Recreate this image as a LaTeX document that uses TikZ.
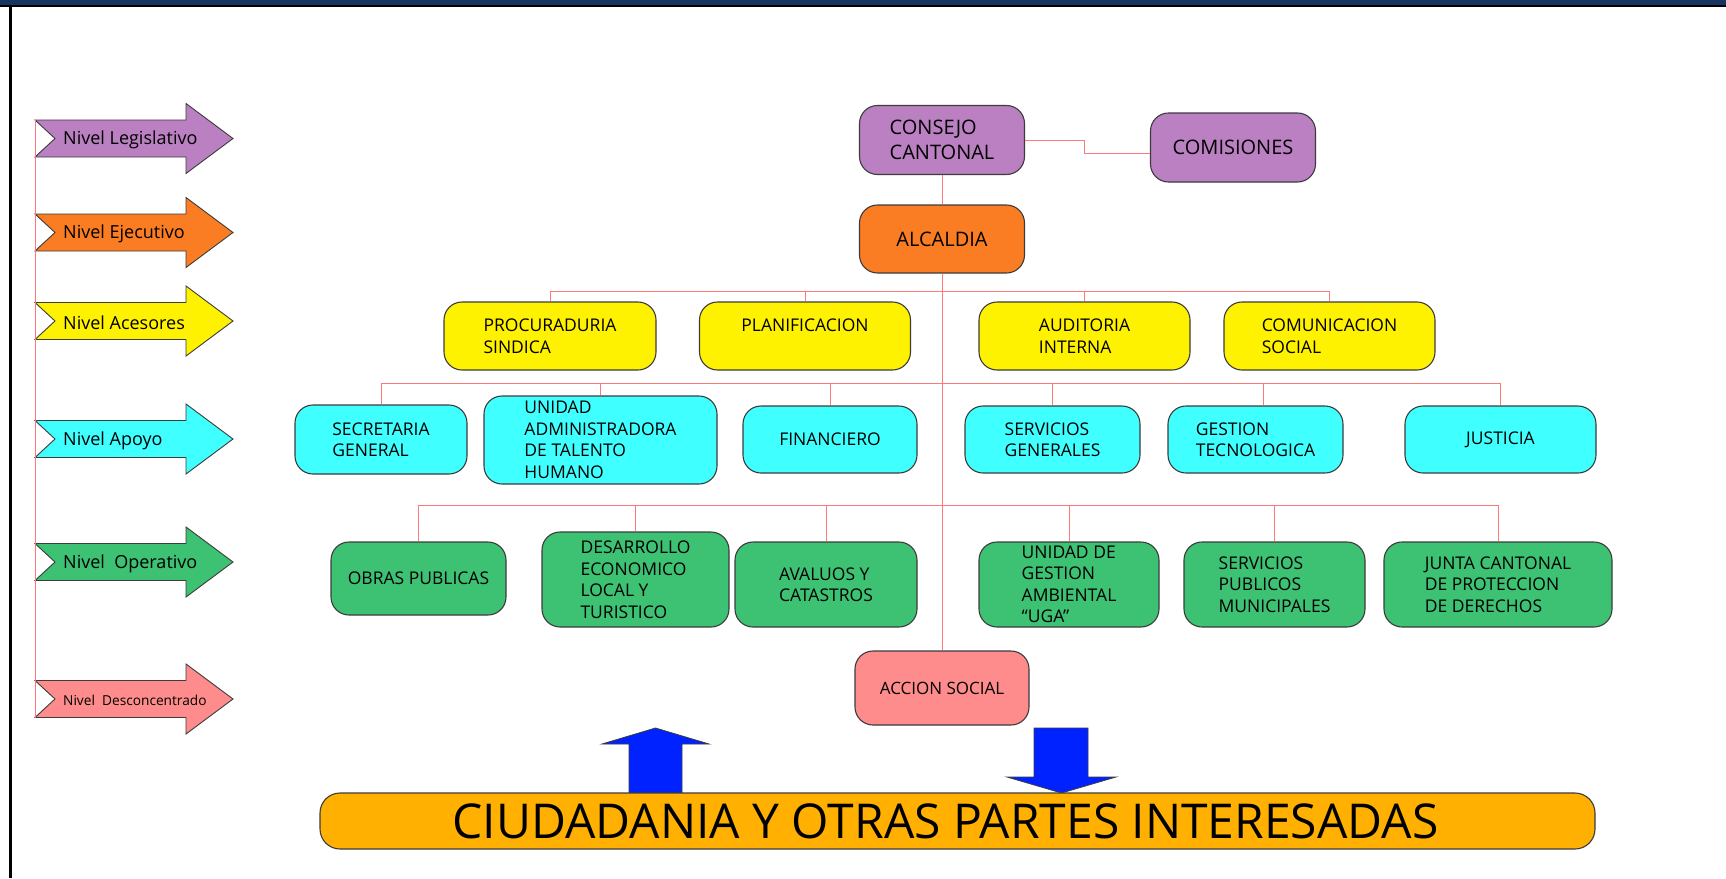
\documentclass[tikz,border=0pt]{standalone}
\usepackage{fontspec}
\setmainfont{Open Sans}
\definecolor{cpurple}{RGB}{187,128,193}
\definecolor{corangebox}{RGB}{251,125,35}
\definecolor{cyellow}{RGB}{255,242,0}
\definecolor{ccyan}{RGB}{64,255,255}
\definecolor{cgreen}{RGB}{61,193,115}
\definecolor{cpink}{RGB}{255,140,140}
\definecolor{cbar}{RGB}{255,176,0}
\definecolor{cblue}{RGB}{0,34,255}
\definecolor{linered}{RGB}{255,120,120}
\definecolor{boxborder}{RGB}{60,60,60}
\definecolor{navy}{RGB}{23,53,96}
\newcommand\levelarrow[5]{%
  \draw[lvl, fill=#3] (35,#2-18.5) -- (186,#2-18.5) -- (186,#2-35) -- (233,#2) -- (186,#2+35) -- (186,#2+18.5) -- (35,#2+18.5) -- (55,#2) -- cycle;
  \node[lvltext, font=\fontsize{#5}{#5}\selectfont] (#1) at (63,#2+1.5) {#4};
  \coordinate (#1-top) at (35,#2-18.5);
  \coordinate (#1-bot) at (35,#2+18.5);
}
\begin{document}
\begin{tikzpicture}[x=1pt,y=-1pt,
  conn/.style={draw=linered, line width=1pt},
  box/.style={draw=boxborder, line width=1.1pt, rounded corners=18pt, align=left, inner sep=0pt, font=\fontsize{17.5}{21.5}\selectfont, text=black},
  lvl/.style={draw=boxborder, line width=0.9pt},
  lvltext/.style={anchor=west, inner sep=0pt, text=black},
  bluearrow/.style={draw=boxborder, line width=0.8pt, fill=cblue}
]
\useasboundingbox (0,0) rectangle (1726,878);
\fill[white] (0,0) rectangle (1726,878);
\fill[navy] (0,0) rectangle (1726,5);
\fill[black] (0,5) rectangle (1726,7);
\fill[black] (9,5) rectangle (11.5,878);

% level arrows
\levelarrow{leg}{138.5}{cpurple}{Nivel Legislativo}{18}
\levelarrow{eje}{232.5}{corangebox}{Nivel Ejecutivo}{18}
\levelarrow{ace}{321}{cyellow}{Nivel Acesores}{18}
\levelarrow{apo}{439}{ccyan}{Nivel Apoyo}{18}
\levelarrow{ope}{562}{cgreen}{Nivel~~Operativo}{18}
\levelarrow{des}{699}{cpink}{Nivel~~Desconcentrado}{13.7}
\draw[conn] (leg-top) -- (des-bot);

% boxes
\node[box, fill=cpurple, minimum width=165, minimum height=69, font=\fontsize{20}{25}\selectfont] (consejo) at (942,140) {CONSEJO\\CANTONAL};
\node[box, fill=cpurple, minimum width=165, minimum height=69, font=\fontsize{20}{25}\selectfont] (comisiones) at (1233,147.5) {COMISIONES};
\node[box, fill=corangebox, minimum width=165, minimum height=68, font=\fontsize{20}{25}\selectfont] (alcaldia) at (942,239) {ALCALDIA};

\node[box, fill=cyellow, minimum width=212, minimum height=68] (procuraduria) at (550,336) {PROCURADURIA\\SINDICA};
\node[box, fill=cyellow, minimum width=211, minimum height=68] (planificacion) at (805,336) {PLANIFICACION\\\mbox{}};
\node[box, fill=cyellow, minimum width=211, minimum height=68] (auditoria) at (1084.5,336) {AUDITORIA\\INTERNA};
\node[box, fill=cyellow, minimum width=211, minimum height=68] (comunicacion) at (1329.5,336) {COMUNICACION\\SOCIAL};

\node[box, fill=ccyan, minimum width=172, minimum height=69] (secretaria) at (381,439.5) {SECRETARIA\\GENERAL};
\node[box, fill=ccyan, minimum width=233, minimum height=88] (unidad) at (600.5,440) {UNIDAD\\ADMINISTRADORA\\DE TALENTO\\HUMANO};
\node[box, fill=ccyan, minimum width=174, minimum height=67] (financiero) at (830,439.5) {FINANCIERO};
\node[box, fill=ccyan, minimum width=175, minimum height=67] (servgen) at (1052.5,439.5) {SERVICIOS\\GENERALES};
\node[box, fill=ccyan, minimum width=175, minimum height=67] (gestion) at (1255.5,439.5) {GESTION\\TECNOLOGICA};
\node[box, fill=ccyan, minimum width=191, minimum height=67] (justicia) at (1500.5,439.5) {JUSTICIA};

\node[box, fill=cgreen, minimum width=175, minimum height=73] (obras) at (418.5,578.5) {OBRAS PUBLICAS};
\node[box, fill=cgreen, minimum width=187, minimum height=95] (desarrollo) at (635.5,579.5) {DESARROLLO\\ECONOMICO\\LOCAL Y\\TURISTICO};
\node[box, fill=cgreen, minimum width=182, minimum height=85] (avaluos) at (826,584.5) {AVALUOS Y\\CATASTROS};
\node[box, fill=cgreen, minimum width=180, minimum height=85] (uga) at (1069,584.5) {UNIDAD DE\\GESTION\\AMBIENTAL\\“UGA”};
\node[box, fill=cgreen, minimum width=181, minimum height=85] (servpub) at (1274.5,584.5) {SERVICIOS\\PUBLICOS\\MUNICIPALES};
\node[box, fill=cgreen, minimum width=228, minimum height=85] (junta) at (1498,584.5) {JUNTA CANTONAL\\DE PROTECCION\\DE DERECHOS};

\node[box, fill=cpink, minimum width=174, minimum height=74, font=\fontsize{17}{20}\selectfont] (accion) at (942,688) {ACCION SOCIAL};

% connectors
\coordinate (lvlone) at (942,291);
\coordinate (lvltwo) at (942,383);
\coordinate (lvlthree) at (942,505);
\draw[conn] (consejo.south) -- (alcaldia.north);
\draw[conn] (consejo.east) -- ++(59,0) |- ([yshift=-5.5pt]comisiones.west);
\draw[conn] (alcaldia.south) -- (accion.north);

\draw[conn] (procuraduria.north) -- (procuraduria.north |- lvlone) -- (comunicacion.north |- lvlone) -- (comunicacion.north);
\draw[conn] (planificacion.north) -- (planificacion.north |- lvlone);
\draw[conn] (auditoria.north) -- (auditoria.north |- lvlone);

\draw[conn] (secretaria.north) -- (secretaria.north |- lvltwo) -- (justicia.north |- lvltwo) -- (justicia.north);
\draw[conn] (unidad.north) -- (unidad.north |- lvltwo);
\draw[conn] (financiero.north) -- (financiero.north |- lvltwo);
\draw[conn] (servgen.north) -- (servgen.north |- lvltwo);
\draw[conn] ([xshift=8pt]gestion.north) -- ([xshift=8pt]gestion.north |- lvltwo);

\draw[conn] (obras.north) -- (obras.north |- lvlthree) -- (junta.north |- lvlthree) -- (junta.north);
\draw[conn] (desarrollo.north) -- (desarrollo.north |- lvlthree);
\draw[conn] (avaluos.north) -- (avaluos.north |- lvlthree);
\draw[conn] (uga.north) -- (uga.north |- lvlthree);
\draw[conn] (servpub.north) -- (servpub.north |- lvlthree);

% blue arrows
\draw[bluearrow] (629,794) -- (629,744) -- (602,744) -- (655.5,728) -- (709,744) -- (682,744) -- (682,794) -- cycle;
\draw[bluearrow] (1034,728) -- (1088,728) -- (1088,777) -- (1116,777) -- (1061.5,793) -- (1007,777) -- (1034,777) -- cycle;

% bottom bar
\node[draw=boxborder, line width=1.1pt, rounded corners=20pt, fill=cbar, minimum width=1275, minimum height=56, inner sep=0pt, font=\fontsize{48}{50}\selectfont] (ciudadania) at (957.5,821) {CIUDADANIA Y OTRAS PARTES INTERESADAS\hspace*{24pt}};
\end{tikzpicture}
\end{document}
